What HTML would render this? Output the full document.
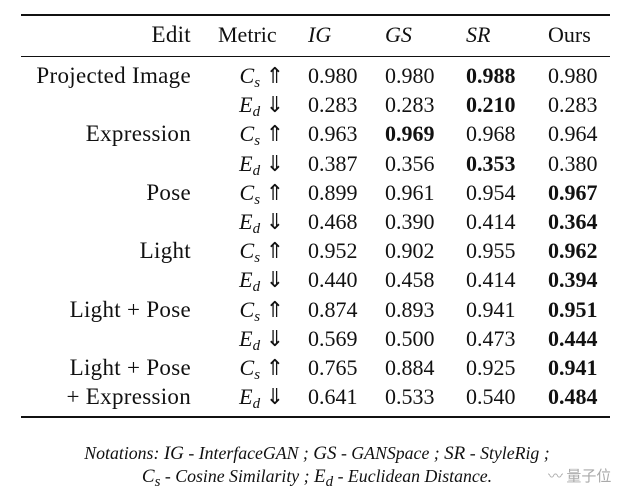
<!DOCTYPE html>
<html><head><meta charset="utf-8"><style>
body{margin:0;width:634px;height:502px;background:#fff;position:relative;font-family:"Liberation Serif",serif;color:#111;overflow:hidden}
.r{position:absolute;left:21px;width:589px;background:#111}
.t{position:absolute;font-size:22px;line-height:22px;white-space:nowrap}
.e{right:443px;text-align:right;letter-spacing:0.3px;font-size:23px}
.m{right:350px;text-align:right}
i{font-style:italic}
b{font-weight:bold}
sub{font-size:15px;vertical-align:-4px;line-height:0}
.n{position:absolute;left:0;width:634px;text-align:center;font-style:italic;font-size:17.8px}
</style></head><body>
<div class="r" style="top:14px;height:2px"></div>
<div class="r" style="top:56px;height:1px"></div>
<div class="r" style="top:416px;height:2px"></div>
<div class="t e" style="top:24px">Edit</div>
<div class="t" style="left:218px;top:24px">Metric</div>
<div class="t" style="left:308px;top:24px"><i>IG</i></div>
<div class="t" style="left:385px;top:24px"><i>GS</i></div>
<div class="t" style="left:466px;top:24px"><i>SR</i></div>
<div class="t" style="left:548px;top:24px">Ours</div>
<div id="rows"></div>
<script>
var d=[["Projected Image","0.980","0.980","<b>0.988</b>","0.980","0.283","0.283","<b>0.210</b>","0.283"],
["Expression","0.963","<b>0.969</b>","0.968","0.964","0.387","0.356","<b>0.353</b>","0.380"],
["Pose","0.899","0.961","0.954","<b>0.967</b>","0.468","0.390","0.414","<b>0.364</b>"],
["Light","0.952","0.902","0.955","<b>0.962</b>","0.440","0.458","0.414","<b>0.394</b>"],
["Light + Pose","0.874","0.893","0.941","<b>0.951</b>","0.569","0.500","0.473","<b>0.444</b>"],
["Light + Pose","0.765","0.884","0.925","<b>0.941</b>","0.641","0.533","0.540","<b>0.484</b>"]];
var h="",x=[308,385,466,548];
d.forEach(function(r,i){
 var y1=65+i*58.4,y2=y1+29.2;
 h+='<div class="t e" style="top:'+y1+'px">'+r[0]+'</div>';
 if(i==5)h+='<div class="t e" style="top:'+y2+'px">+ Expression</div>';
 h+='<div class="t m" style="top:'+y1+'px"><i>C<sub>s</sub></i> ⇑</div>';
 h+='<div class="t m" style="top:'+y2+'px"><i>E<sub>d</sub></i> ⇓</div>';
 for(var k=0;k<4;k++){
  h+='<div class="t" style="left:'+x[k]+'px;top:'+y1+'px">'+r[1+k]+'</div>';
  h+='<div class="t" style="left:'+x[k]+'px;top:'+y2+'px">'+r[5+k]+'</div>';
 }
});
document.getElementById("rows").innerHTML=h;
</script>
<div class="n" style="top:443px">Notations: <span style="font-size:19px">IG</span> - InterfaceGAN ; <span style="font-size:19px">GS</span> - GANSpace ; <span style="font-size:19px">SR</span> - StyleRig ;</div>
<div class="n" style="top:466px"><span style="font-size:19px">C<sub>s</sub></span> - Cosine Similarity ; <span style="font-size:19px">E<sub>d</sub></span> - Euclidean Distance.</div>
<div style="position:absolute;left:548px;top:465px;font-size:15px;color:#aaa;font-family:'Noto Sans CJK SC',sans-serif">〰 量子位</div>
</body></html>
